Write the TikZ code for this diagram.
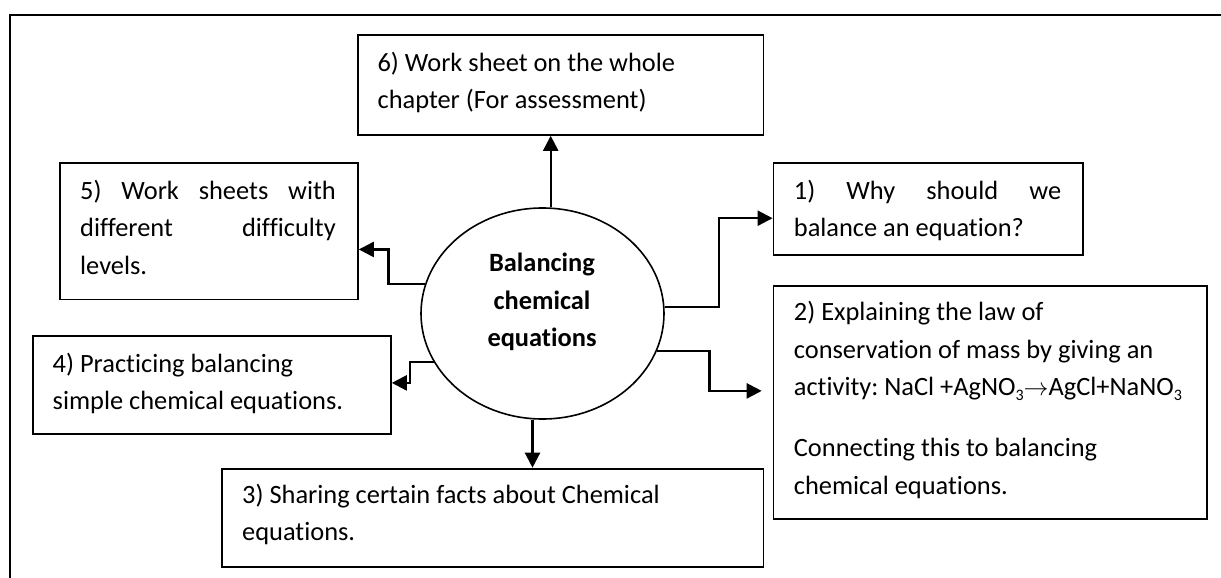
\documentclass[tikz,border=0pt]{standalone}
\usepackage{fontspec}
\setmainfont{Carlito}[Ligatures={NoCommon,NoContextual}]
\usetikzlibrary{shapes.geometric,arrows.meta}
\tikzset{
  box/.style={draw, line width=1.8pt, inner sep=0pt, anchor=north west},
  txt/.style={anchor=base west, inner sep=0pt, font=\fontsize{26.4}{37.5}\selectfont},
  arr/.style={line width=2.3pt, -{Triangle[length=15pt,width=15pt]}},
  frame/.style={line width=1.7pt},
}
\newcommand{\chemsub}[1]{\raisebox{-5pt}{\fontsize{16}{16}\selectfont #1}}
\frenchspacing
\begin{document}
\begin{tikzpicture}[x=1pt,y=-1pt]
\useasboundingbox (0,0) rectangle (1221,578);
% outer frame
\draw[frame] (10,578) -- (10,15) -- (1221,15);
% boxes
\node[box, minimum width=405.5pt, minimum height=100pt] (b6) at (357,34) {};
\node[box, minimum width=298pt, minimum height=136.5pt] (b5) at (59,162) {};
\node[box, minimum width=309.4pt, minimum height=92pt] (b1) at (772.6,162) {};
\node[box, minimum width=433.4pt, minimum height=232.7pt] (b2) at (772.6,285) {};
\node[box, minimum width=358pt, minimum height=98pt] (b4) at (32,335.3) {};
\node[box, minimum width=541.5pt, minimum height=98.3pt] (b3) at (221,467.7) {};
% texts
\node[txt] (t6) at (377.4,71) {\parbox[t]{380pt}{6) Work sheet on the whole\\chapter (For assessment)}};
\node[txt] (t5) at (80,199) {\parbox[t]{255.6pt}{5)\hfill Work\hfill sheets\hfill with\\different\hfill difficulty\\levels.}};
\node[txt] (t1) at (793.7,199) {\parbox[t]{267.3pt}{1)\hfill Why\hfill should\hfill we\\balance an equation?}};
\node[txt] (t2) at (793.7,320.7) {\parbox[t]{410pt}{2) Explaining the law of\\conservation of mass by giving an\\activity: NaCl +AgNO\chemsub{3}$\rightarrow$AgCl+NaNO\chemsub{3}\\[23.3pt]Connecting this to balancing\\chemical equations.}};
\node[txt] (t4) at (52.5,372.3) {\parbox[t]{330pt}{4) Practicing balancing\\simple chemical equations.}};
\node[txt] (t3) at (242,503.3) {\parbox[t]{510pt}{3) Sharing certain facts about Chemical\\equations.}};
% centre
\node[draw, ellipse, line width=1.6pt, minimum width=243pt, minimum height=211pt, inner sep=0pt] (ell) at (542.5,313.5) {};
\node[anchor=base, inner sep=0pt, font=\fontsize{26.4}{37.5}\selectfont\bfseries] (et) at (542,271.7) {\parbox[t]{200pt}{\centering Balancing\\chemical\\equations}};
% connectors
\draw[arr] ([xshift=8.2pt]ell.north) -- ([xshift=8.2pt]ell.north |- b6.south);
\draw[arr] (ell.3.5) -- ++(54.3,0) |- ([yshift=-9.3pt]b1.west);
\draw[arr] (ell.-18.3) -- ++(52.5,0) |- ([xshift=-10.9pt,yshift=11.35pt]b2.west);
\draw[arr] (ell.166) -- ++(-36.4,0) |- ([yshift=-18.3pt]b5.east);
\draw[arr] (ell.204) -- ++(-23.7,0) |- ([yshift=2.3pt]b4.east);
\draw[arr] ([xshift=-10pt]ell.south) -- ([xshift=-10pt]ell.south |- b3.north);
\end{tikzpicture}
\end{document}
